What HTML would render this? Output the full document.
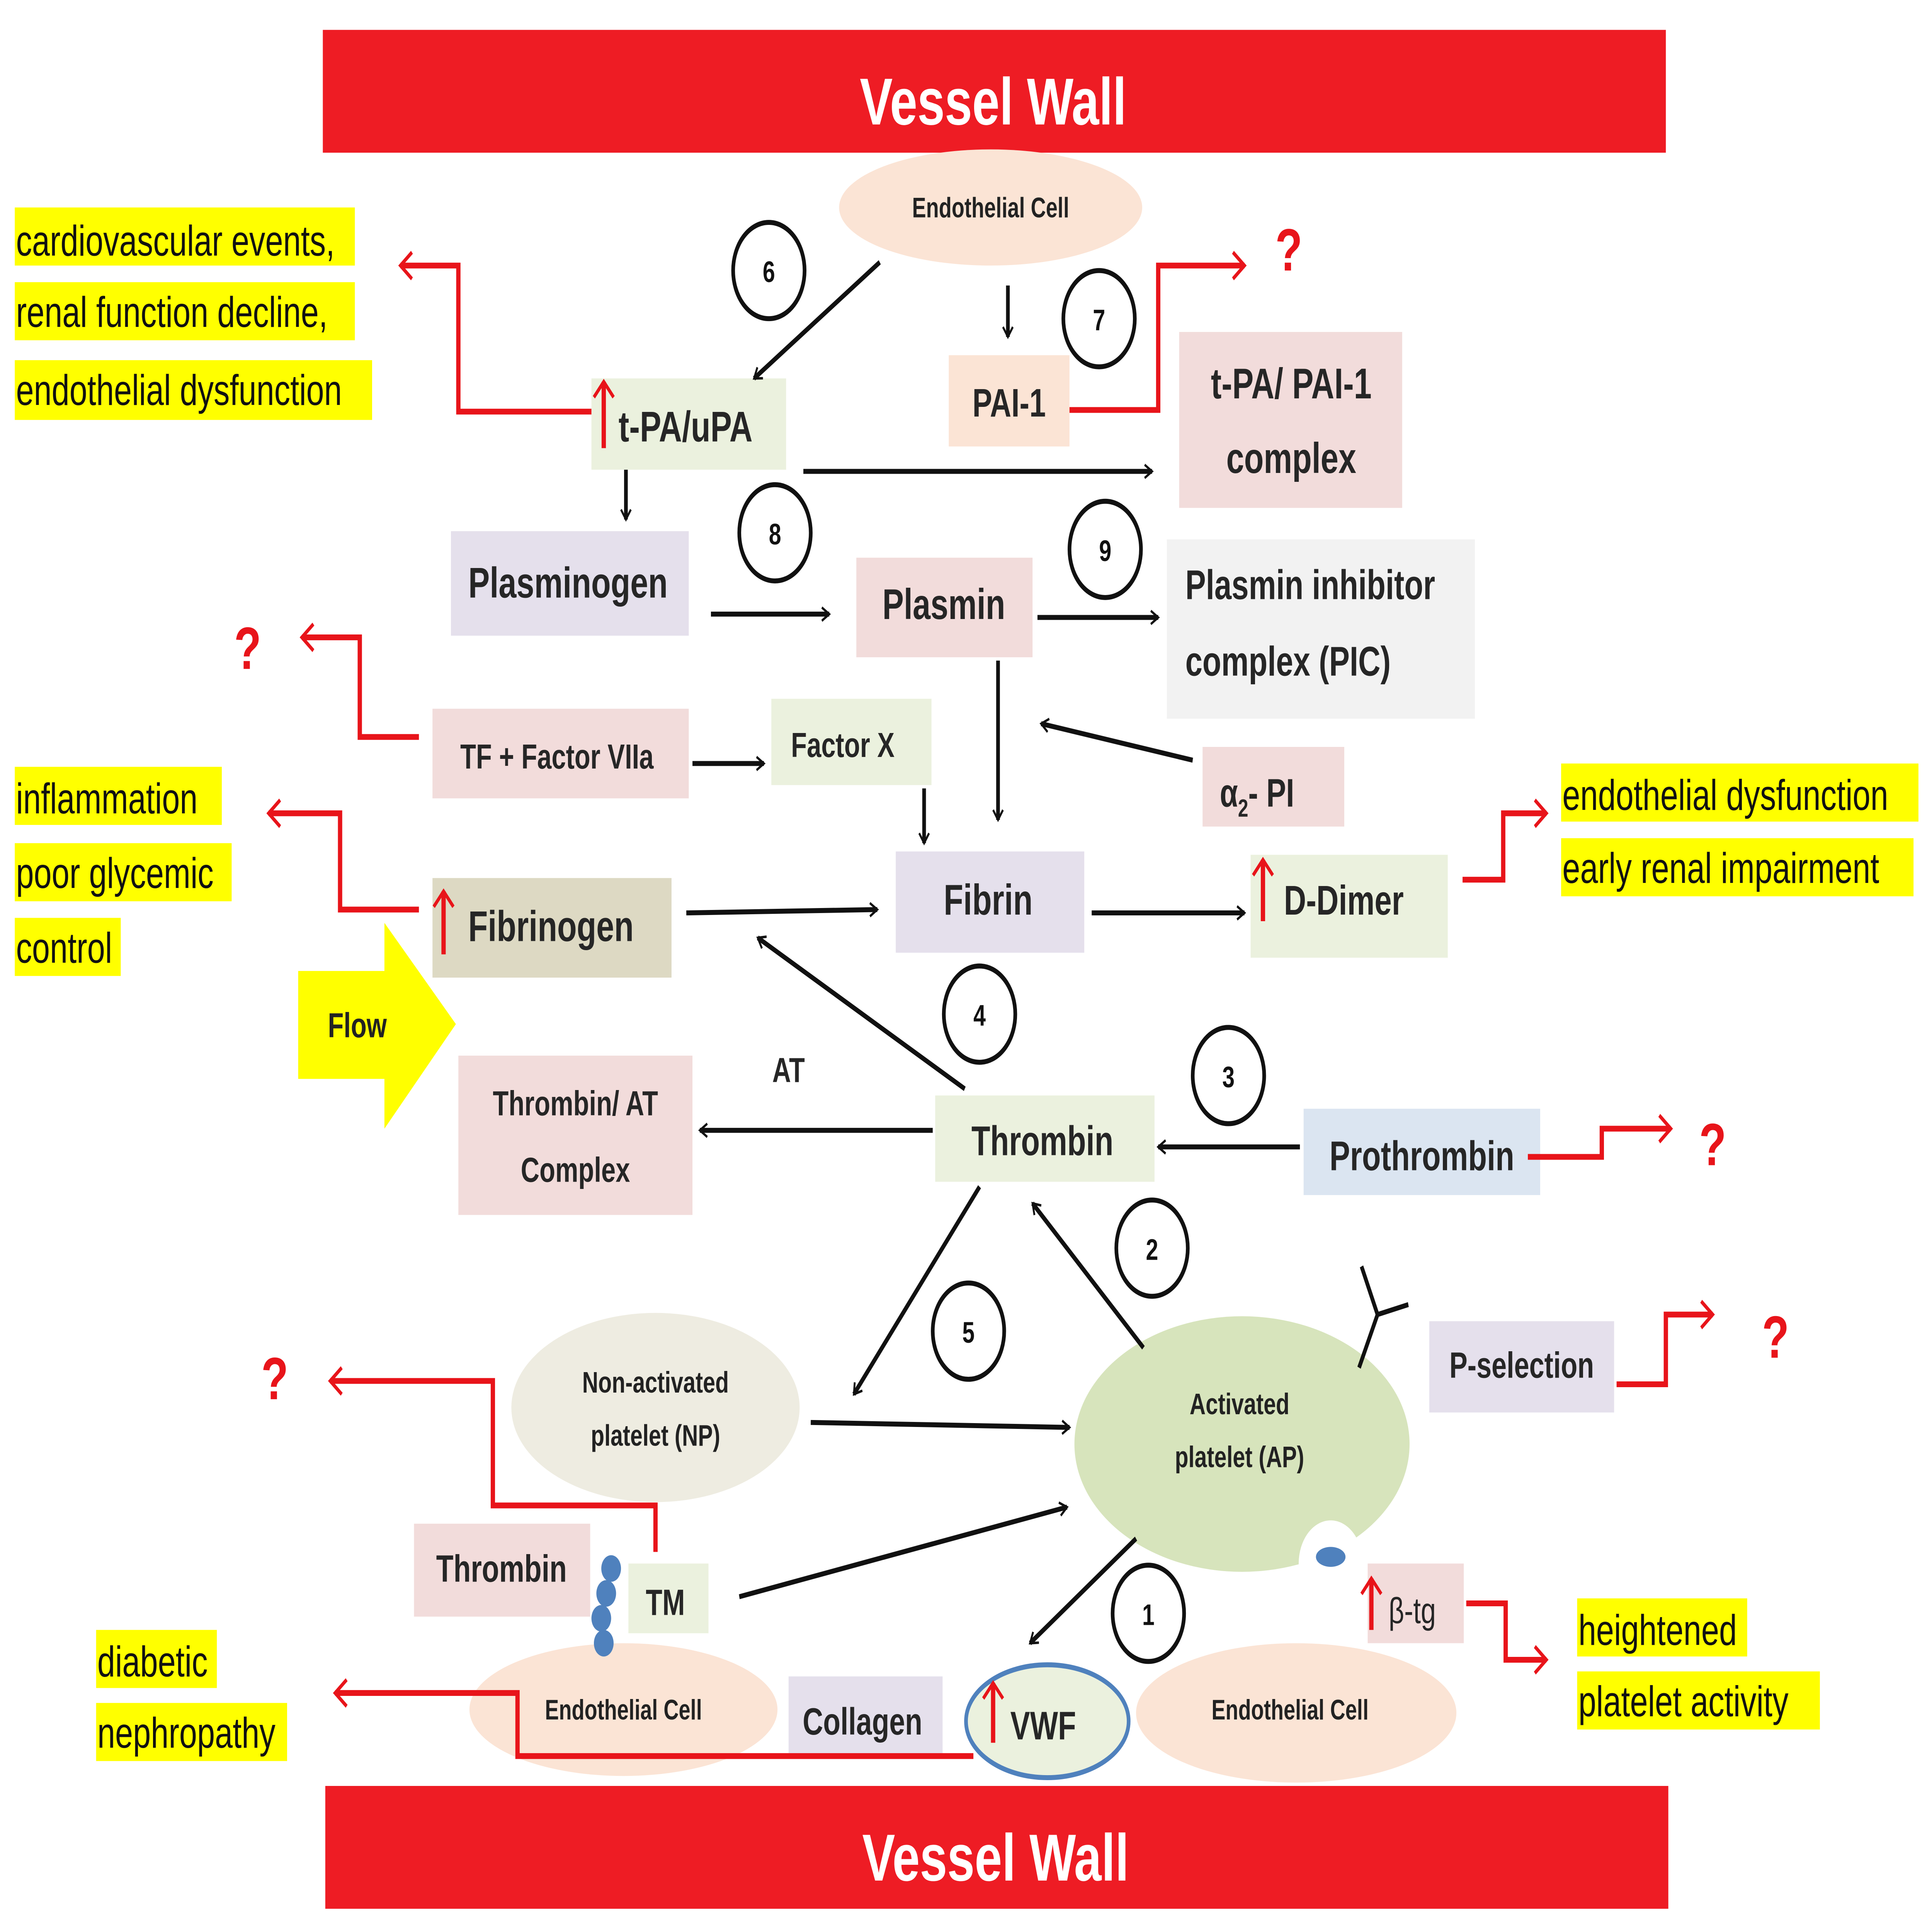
<!DOCTYPE html>
<html><head><meta charset="utf-8"><style>html,body{margin:0;padding:0;background:#fff;width:100%;height:100%;overflow:hidden}svg{display:block;width:100vw;height:100vh}</style></head><body>
<svg viewBox="0 0 1568 1164" preserveAspectRatio="none" xmlns="http://www.w3.org/2000/svg" font-family="Liberation Sans, sans-serif" font-weight="bold">
<defs>
<marker id="ab" viewBox="0 0 12 12" refX="10" refY="6" markerWidth="6" markerHeight="6" orient="auto" markerUnits="userSpaceOnUse" style="overflow:visible"><path d="M-2,-2 L10,6 L-2,14" fill="none" stroke="#111" stroke-width="3"/></marker>
<marker id="ar" viewBox="0 0 12 12" refX="10" refY="6" markerWidth="8" markerHeight="8" orient="auto" markerUnits="userSpaceOnUse" style="overflow:visible"><path d="M-4,-6 L10,6 L-4,18" fill="none" stroke="#e8141a" stroke-width="3.5"/></marker>
</defs>
<rect width="1568" height="1164" fill="#fff"/>
<rect x="262" y="18" width="1090" height="74" fill="#ee1c24"/>
<text x="806" y="75" font-size="40" fill="#fff" text-anchor="middle">Vessel Wall</text>
<rect x="264" y="1076" width="1090" height="74" fill="#ee1c24"/>
<text x="808" y="1133" font-size="40" fill="#fff" text-anchor="middle">Vessel Wall</text>

<g fill="#ffff00">
<rect x="12" y="125" width="276" height="35"/><rect x="12" y="170" width="276" height="35"/><rect x="12" y="217" width="290" height="36"/>
<rect x="12" y="462" width="168" height="35"/><rect x="12" y="508" width="176" height="35"/><rect x="12" y="553" width="86" height="35"/>
<rect x="1267" y="460" width="290" height="35"/><rect x="1267" y="505" width="286" height="35"/>
<rect x="1280" y="963" width="138" height="35"/><rect x="1280" y="1007" width="197" height="35"/>
<rect x="78" y="982" width="98" height="35"/><rect x="78" y="1026" width="155" height="35"/>
</g>
<g font-size="26" fill="#111" font-weight="normal">
<text x="13" y="154">cardiovascular events,</text>
<text x="13" y="197">renal function decline,</text>
<text x="13" y="244">endothelial dysfunction</text>
<text x="13" y="490">inflammation</text>
<text x="13" y="535">poor glycemic</text>
<text x="13" y="580">control</text>
<text x="1268" y="488">endothelial dysfunction</text>
<text x="1268" y="532">early renal impairment</text>
<text x="1281" y="991">heightened</text>
<text x="1281" y="1034">platelet activity</text>
<text x="79" y="1010">diabetic</text>
<text x="79" y="1053">nephropathy</text>
</g>

<polygon points="242,585 312,585 312,556 370,617 312,680 312,650 242,650" fill="#ffff00"/>
<text x="290" y="625" font-size="21" text-anchor="middle" fill="#222">Flow</text>

<ellipse cx="804" cy="125" rx="123" ry="35" fill="#fbe4d5"/>
<text x="804" y="131" font-size="17" text-anchor="middle" fill="#222">Endothelial Cell</text>
<ellipse cx="532" cy="848" rx="117" ry="57" fill="#eeece1"/>
<text x="532" y="839" font-size="18" text-anchor="middle" fill="#222">Non-activated</text>
<text x="532" y="871" font-size="18" text-anchor="middle" fill="#222">platelet (NP)</text>
<ellipse cx="1008" cy="870" rx="136" ry="77" fill="#d7e4bc"/>
<circle cx="1080" cy="942" r="26" fill="#fff"/>
<ellipse cx="1080" cy="938" rx="12" ry="6" fill="#4f81bd"/>
<text x="1006" y="852" font-size="18" text-anchor="middle" fill="#222">Activated</text>
<text x="1006" y="884" font-size="18" text-anchor="middle" fill="#222">platelet (AP)</text>
<path d="M1103,824 L1118,792 L1105,763 M1118,792 L1143,786" stroke="#111" stroke-width="3" fill="none"/>
<ellipse cx="506" cy="1030" rx="125" ry="40" fill="#fbe4d5"/>
<text x="506" y="1036" font-size="17" text-anchor="middle" fill="#222">Endothelial Cell</text>
<ellipse cx="1052" cy="1032" rx="130" ry="42" fill="#fbe4d5"/>
<text x="1047" y="1036" font-size="17" text-anchor="middle" fill="#222">Endothelial Cell</text>

<rect x="480" y="228" width="158" height="55" fill="#ebf1de"/>
<rect x="770" y="214" width="98" height="55" fill="#fbe4d5"/>
<rect x="957" y="200" width="181" height="106" fill="#f2dcdb"/>
<rect x="366" y="320" width="193" height="63" fill="#e5e0ec"/>
<rect x="695" y="336" width="143" height="60" fill="#f2dcdb"/>
<rect x="947" y="325" width="250" height="108" fill="#f2f2f2"/>
<rect x="976" y="450" width="115" height="48" fill="#f2dcdb"/>
<rect x="351" y="427" width="208" height="54" fill="#f2dcdb"/>
<rect x="626" y="421" width="130" height="52" fill="#ebf1de"/>
<rect x="351" y="529" width="194" height="60" fill="#ddd9c3"/>
<rect x="727" y="513" width="153" height="61" fill="#e5e0ec"/>
<rect x="1015" y="515" width="160" height="62" fill="#ebf1de"/>
<rect x="759" y="660" width="178" height="52" fill="#ebf1de"/>
<rect x="372" y="636" width="190" height="96" fill="#f2dcdb"/>
<rect x="1058" y="668" width="192" height="52" fill="#dbe5f1"/>
<rect x="1160" y="796" width="150" height="55" fill="#e5e0ec"/>
<rect x="1110" y="942" width="78" height="48" fill="#f2dcdb"/>
<rect x="336" y="918" width="143" height="56" fill="#f2dcdb"/>
<rect x="510" y="942" width="65" height="42" fill="#ebf1de"/>
<rect x="640" y="1010" width="125" height="48" fill="#e5e0ec"/>
<ellipse cx="850" cy="1037" rx="66" ry="34" fill="#ebf1de" stroke="#4f81bd" stroke-width="3"/>
<g fill="#4f81bd"><circle cx="496" cy="945" r="8"/><circle cx="492" cy="960" r="8"/><circle cx="488" cy="975" r="8"/><circle cx="490" cy="990" r="8"/></g>

<g fill="#262626" font-size="26">
<text x="502" y="266">t-PA/uPA</text>
<text x="819" y="251" text-anchor="middle" font-size="24">PAI-1</text>
<text x="1048" y="240" text-anchor="middle">t-PA/ PAI-1</text>
<text x="1048" y="285" text-anchor="middle">complex</text>
<text x="461" y="360" text-anchor="middle">Plasminogen</text>
<text x="766" y="373" text-anchor="middle">Plasmin</text>
<text x="962" y="361" font-size="25">Plasmin inhibitor</text>
<text x="962" y="407" font-size="25">complex (PIC)</text>
<text x="990" y="486" font-size="24">α<tspan font-size="15" dy="6">2</tspan><tspan dy="-6">- PI</tspan></text>
<text x="452" y="463" text-anchor="middle" font-size="21">TF + Factor VIIa</text>
<text x="684" y="456" text-anchor="middle" font-size="21">Factor X</text>
<text x="380" y="567">Fibrinogen</text>
<text x="802" y="551" text-anchor="middle">Fibrin</text>
<text x="1042" y="551" font-size="25">D-Dimer</text>
<text x="846" y="696" text-anchor="middle" font-size="25">Thrombin</text>
<text x="467" y="672" text-anchor="middle" font-size="21">Thrombin/ AT</text>
<text x="467" y="712" text-anchor="middle" font-size="21">Complex</text>
<text x="640" y="652" text-anchor="middle" font-size="21">AT</text>
<text x="1154" y="705" text-anchor="middle" font-size="25">Prothrombin</text>
<text x="1235" y="830" text-anchor="middle" font-size="22">P-selection</text>
<text x="1127" y="978" font-size="22" font-weight="normal">β-tg</text>
<text x="407" y="953" text-anchor="middle" font-size="23">Thrombin</text>
<text x="540" y="973" text-anchor="middle" font-size="22">TM</text>
<text x="700" y="1045" text-anchor="middle" font-size="23">Collagen</text>
<text x="820" y="1048" font-size="24">VWF</text>
</g>

<g fill="#fff" stroke="#111" stroke-width="3">
<circle cx="624" cy="163" r="29"/><circle cx="892" cy="192" r="29"/><circle cx="629" cy="321" r="29"/><circle cx="897" cy="331" r="29"/>
<circle cx="795" cy="611" r="29"/><circle cx="997" cy="648" r="29"/><circle cx="935" cy="752" r="29"/><circle cx="786" cy="802" r="29"/><circle cx="932" cy="972" r="29"/>
</g>
<g font-size="18" text-anchor="middle" fill="#111">
<text x="624" y="170">6</text><text x="892" y="199">7</text><text x="629" y="328">8</text><text x="897" y="338">9</text>
<text x="795" y="618">4</text><text x="997" y="655">3</text><text x="935" y="759">2</text><text x="786" y="809">5</text><text x="932" y="979">1</text>
</g>

<g stroke="#111" stroke-width="3" fill="none" marker-end="url(#ab)">
<line x1="818" y1="172" x2="818" y2="203"/>
<line x1="714" y1="158" x2="612" y2="228"/>
<line x1="652" y1="284" x2="935" y2="284"/>
<line x1="508" y1="283" x2="508" y2="313"/>
<line x1="577" y1="370" x2="673" y2="370"/>
<line x1="842" y1="372" x2="940" y2="372"/>
<line x1="810" y1="398" x2="810" y2="494"/>
<line x1="968" y1="458" x2="845" y2="436"/>
<line x1="562" y1="460" x2="620" y2="460"/>
<line x1="750" y1="475" x2="750" y2="508"/>
<line x1="557" y1="550" x2="712" y2="548"/>
<line x1="886" y1="550" x2="1010" y2="550"/>
<line x1="783" y1="656" x2="615" y2="565"/>
<line x1="757" y1="681" x2="568" y2="681"/>
<line x1="1055" y1="691" x2="940" y2="691"/>
<line x1="795" y1="715" x2="693" y2="840"/>
<line x1="928" y1="812" x2="838" y2="725"/>
<line x1="658" y1="857" x2="868" y2="860"/>
<line x1="600" y1="962" x2="866" y2="908"/>
<line x1="922" y1="927" x2="836" y2="990"/>
</g>

<g stroke="#e8141a" stroke-width="3.5" fill="none" marker-end="url(#ar)">
<polyline points="480,248 372,248 372,160 325,160"/>
<polyline points="868,247 940,247 940,160 1010,160"/>
<polyline points="340,444 292,444 292,384 245,384"/>
<polyline points="340,548 276,548 276,490 218,490"/>
<polyline points="1187,530 1220,530 1220,490 1255,490"/>
<polyline points="1240,697 1300,697 1300,680 1356,680"/>
<polyline points="1312,834 1352,834 1352,792 1390,792"/>
<polyline points="1190,966 1222,966 1222,1000 1255,1000"/>
<polyline points="532,935 532,907 400,907 400,832 268,832"/>
<polyline points="790,1058 420,1058 420,1020 272,1020"/>
<line x1="490" y1="270" x2="490" y2="230"/>
<line x1="360" y1="575" x2="360" y2="537"/>
<line x1="1025" y1="555" x2="1025" y2="518"/>
<line x1="1113" y1="982" x2="1113" y2="951"/>
<line x1="806" y1="1050" x2="806" y2="1014"/>
</g>
<g fill="#e8141a" font-size="36" text-anchor="middle">
<text x="1046" y="163">?</text><text x="201" y="403">?</text><text x="1390" y="702">?</text><text x="1441" y="818">?</text><text x="223" y="843">?</text>
</g>
</svg>
</body></html>
